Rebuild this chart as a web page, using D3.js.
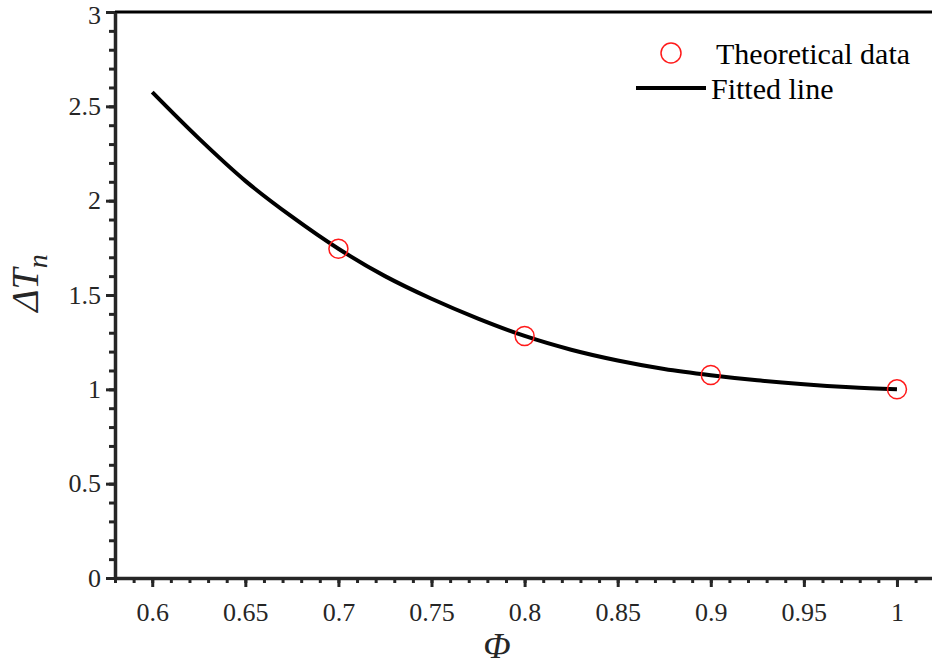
<!DOCTYPE html>
<html lang="en">
<head>
    <meta charset="UTF-8">
    <title>Delta Tn vs Phi</title>
    <script src="https://d3js.org/d3.v7.min.js"></script>
    <style>
        body { margin: 0; background: #fff; overflow: hidden; }
        .tick text { font-family: "Liberation Serif", "Times New Roman", serif; font-size: 26px; fill: #262626; }
        .domain, .tick line { stroke: #262626; }
    </style>
</head>
<body>
    <div id="chart"></div>
    <script>
        // theoretical points
        const phiPoints = [0.7, 0.8, 0.9, 1.0];
        const dtPoints = [1.745, 1.283, 1.076, 1.0];

        // fitted curve
        const phiFit = [0.6, 0.625, 0.65, 0.675, 0.7, 0.725, 0.75, 0.775, 0.8, 0.825, 0.85, 0.875, 0.9, 0.925, 0.95, 0.975, 1.0];
        const dtFit = [2.575, 2.33, 2.105, 1.915, 1.745, 1.6, 1.48, 1.375, 1.283, 1.21, 1.153, 1.108, 1.075, 1.048, 1.027, 1.011, 1.0];

        const xTicks = [0.6, 0.65, 0.7, 0.75, 0.8, 0.85, 0.9, 0.95, 1];
        const yTicks = [0, 0.5, 1, 1.5, 2, 2.5, 3];

        const width = 932, height = 666;
        const svg = d3.select("#chart").append("svg").attr("width", width).attr("height", height);

        const x = d3.scaleLinear().domain([0.58, 1.02]).range([115, 934.2]);
        const y = d3.scaleLinear().domain([0, 3]).range([578, 12]);

        const xMinor = d3.range(58, 103).map(v => v / 100);
        const yMinor = d3.range(0, 31).map(v => v / 10);

        // box top / right
        svg.append("line").attr("x1", x(0.58)).attr("x2", x(1.02)).attr("y1", y(3)).attr("y2", y(3))
            .attr("stroke", "#000").attr("stroke-width", 3);
        svg.append("line").attr("x1", x(1.02)).attr("x2", x(1.02)).attr("y1", y(3)).attr("y2", y(0))
            .attr("stroke", "#000").attr("stroke-width", 3);

        // minor ticks
        svg.append("g").attr("transform", `translate(0,${y(0)})`)
            .call(d3.axisBottom(x).tickValues(xMinor).tickSize(5).tickFormat(""))
            .call(g => g.select(".domain").remove())
            .selectAll("line").attr("stroke-width", 3);
        svg.append("g").attr("transform", `translate(${x(0.58)},0)`)
            .call(d3.axisLeft(y).tickValues(yMinor).tickSize(6).tickFormat(""))
            .call(g => g.select(".domain").remove())
            .selectAll("line").attr("stroke-width", 3);

        // major axes
        const xAxis = svg.append("g").attr("transform", `translate(0,${y(0)})`)
            .call(d3.axisBottom(x).tickValues(xTicks).tickSize(9).tickSizeOuter(0).tickPadding(16)
                .tickFormat(d => String(+d.toFixed(2))));
        xAxis.selectAll("line").attr("stroke-width", 3);
        xAxis.select(".domain").attr("stroke-width", 3.5);

        const yAxis = svg.append("g").attr("transform", `translate(${x(0.58)},0)`)
            .call(d3.axisLeft(y).tickValues(yTicks).tickSize(9).tickSizeOuter(0).tickPadding(5)
                .tickFormat(d => String(+d.toFixed(1))));
        yAxis.selectAll("line").attr("stroke-width", 3);
        yAxis.select(".domain").attr("stroke-width", 3.5);
        yAxis.selectAll(".tick text").filter(d => d === 3).attr("dy", "0.45em");

        // fitted line
        const fitData = phiFit.map((p, i) => [p, dtFit[i]]);
        svg.append("path")
            .datum(fitData)
            .attr("fill", "none")
            .attr("stroke", "#000")
            .attr("stroke-width", 4)
            .attr("d", d3.line().x(d => x(d[0])).y(d => y(d[1])).curve(d3.curveCatmullRom));

        // theoretical data
        svg.append("g").selectAll("circle")
            .data(phiPoints.map((p, i) => [p, dtPoints[i]]))
            .enter().append("circle")
            .attr("cx", d => x(d[0]))
            .attr("cy", d => y(d[1]))
            .attr("r", 9.5)
            .attr("fill", "none")
            .attr("stroke", "#ff1a1a")
            .attr("stroke-width", 1.5);

        // legend
        const legend = svg.append("g").attr("font-family", "Liberation Serif, Times New Roman, serif")
            .attr("font-size", 30).attr("fill", "#000");
        legend.append("circle").attr("cx", 671).attr("cy", 53).attr("r", 10)
            .attr("fill", "none").attr("stroke", "#ff1a1a").attr("stroke-width", 1.5);
        legend.append("text").attr("x", 716).attr("y", 64).text("Theoretical data");
        legend.append("line").attr("x1", 636).attr("x2", 706).attr("y1", 88).attr("y2", 88)
            .attr("stroke", "#000").attr("stroke-width", 4);
        legend.append("text").attr("x", 711).attr("y", 99).text("Fitted line");

        // axis titles
        svg.append("text")
            .attr("x", 497).attr("y", 658)
            .attr("text-anchor", "middle")
            .attr("font-family", "Liberation Serif, Times New Roman, serif")
            .attr("font-style", "italic").attr("font-size", 36).attr("fill", "#262626")
            .text("Φ");

        const yTitle = svg.append("text")
            .attr("transform", `translate(38,283) rotate(-90)`)
            .attr("text-anchor", "middle")
            .attr("font-family", "Liberation Serif, Times New Roman, serif")
            .attr("font-style", "italic").attr("font-size", 38).attr("fill", "#262626");
        yTitle.append("tspan").text("ΔT");
        yTitle.append("tspan").attr("dy", 9).attr("font-size", 28).text("n");
    </script>
</body>
</html>
